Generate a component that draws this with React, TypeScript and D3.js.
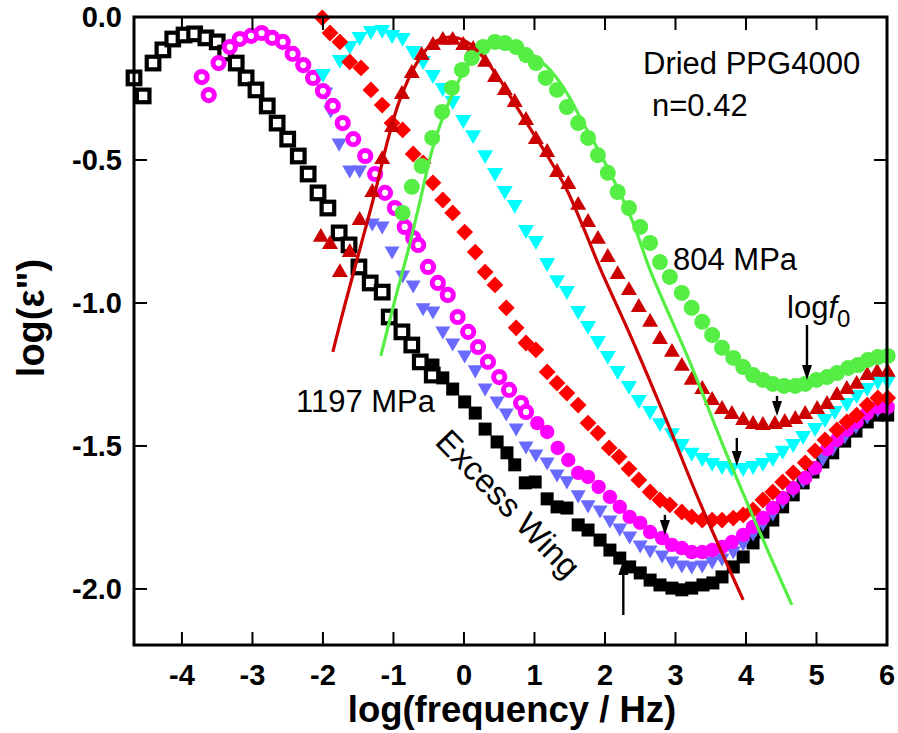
import React from 'react';
import * as d3 from 'd3';

type P = [number, number];

const W = 898;
const H = 733;
const M = { left: 134, right: 11, top: 17, bottom: 88 };
const X_DOMAIN: [number, number] = [-4.68, 6.0];
const Y_DOMAIN: [number, number] = [-2.196, 0];

const xTicks = [-4, -3, -2, -1, 0, 1, 2, 3, 4, 5, 6];
const xTickLabels = ['-4', '-3', '-2', '-1', '0', '1', '2', '3', '4', '5', '6'];
const yTicks = [0, -0.5, -1, -1.5, -2];
const yTickLabels = ['0.0', '-0.5', '-1.0', '-1.5', '-2.0'];

// 1197 MPa, low-frequency spectrometer (open squares)
const blackOpen: P[] = [
  [-4.68, -0.213], [-4.55, -0.276], [-4.41, -0.161], [-4.27, -0.115], [-4.13, -0.077],
  [-3.97, -0.063], [-3.82, -0.059], [-3.66, -0.073], [-3.5, -0.087], [-3.38, -0.126],
  [-3.23, -0.161], [-3.09, -0.213], [-2.95, -0.255], [-2.79, -0.311], [-2.65, -0.371],
  [-2.5, -0.427], [-2.35, -0.486], [-2.21, -0.549], [-2.07, -0.615], [-1.93, -0.668],
  [-1.77, -0.755], [-1.63, -0.797], [-1.49, -0.874], [-1.33, -0.93], [-1.16, -0.962],
  [-1.06, -1.049], [-0.88, -1.101], [-0.74, -1.147], [-0.62, -1.206], [-0.45, -1.252],
];
// 1197 MPa, high-frequency (filled squares)
const blackFilled: P[] = [
  [-0.44, -1.217], [-0.3, -1.262], [-0.16, -1.301], [0.01, -1.346], [0.16, -1.385],
  [0.3, -1.441], [0.47, -1.486], [0.61, -1.524], [0.72, -1.566], [0.87, -1.629],
  [1.01, -1.626], [1.18, -1.685], [1.32, -1.713], [1.46, -1.717], [1.62, -1.776],
  [1.76, -1.794], [1.93, -1.829], [2.07, -1.864], [2.21, -1.892], [2.35, -1.923],
  [2.5, -1.944], [2.64, -1.969], [2.78, -1.986], [2.95, -1.997], [3.09, -2.003],
  [3.23, -1.997], [3.39, -1.986], [3.53, -1.979], [3.66, -1.958], [3.82, -1.923],
  [3.96, -1.888], [4.1, -1.839], [4.24, -1.801], [4.38, -1.759], [4.52, -1.713],
  [4.67, -1.671], [4.81, -1.629], [4.95, -1.591], [5.09, -1.556], [5.23, -1.524],
  [5.4, -1.483], [5.56, -1.448], [5.72, -1.416], [5.87, -1.392], [6.01, -1.392],
];
const blueDown: P[] = [
  [-1.96, -0.269], [-1.89, -0.332], [-1.77, -0.448], [-1.62, -0.542], [-1.48, -0.542],
  [-1.3, -0.727], [-1.16, -0.738], [-1.02, -0.825], [-0.87, -0.909], [-0.72, -0.944],
  [-0.58, -1.024], [-0.44, -1.035], [-0.3, -1.105], [-0.16, -1.147], [0.01, -1.189],
  [0.16, -1.241], [0.3, -1.304], [0.47, -1.35], [0.6, -1.392], [0.74, -1.444],
  [0.88, -1.507], [1.02, -1.535], [1.18, -1.563], [1.32, -1.605], [1.46, -1.629],
  [1.62, -1.678], [1.76, -1.713], [1.93, -1.731], [2.07, -1.766], [2.21, -1.794],
  [2.35, -1.822], [2.5, -1.853], [2.64, -1.871], [2.81, -1.888], [2.95, -1.909],
  [3.09, -1.923], [3.23, -1.927], [3.38, -1.923], [3.52, -1.909], [3.66, -1.899],
  [3.82, -1.874], [3.96, -1.846], [4.1, -1.811], [4.24, -1.776], [4.38, -1.741],
  [4.52, -1.699], [4.67, -1.661], [4.81, -1.626], [4.95, -1.584], [5.09, -1.549],
  [5.23, -1.514], [5.4, -1.472], [5.56, -1.437], [5.72, -1.402], [5.87, -1.378],
  [6.01, -1.378],
];
const magentaOpen: P[] = [
  [-3.72, -0.21], [-3.62, -0.273], [-3.48, -0.161], [-3.32, -0.105], [-3.18, -0.077],
  [-3.02, -0.066], [-2.87, -0.056], [-2.72, -0.073], [-2.57, -0.087], [-2.43, -0.129],
  [-2.28, -0.168], [-2.14, -0.213], [-2.0, -0.259], [-1.86, -0.311], [-1.72, -0.371],
  [-1.57, -0.427], [-1.4, -0.486], [-1.26, -0.549], [-1.12, -0.615], [-0.98, -0.668],
  [-0.84, -0.734], [-0.72, -0.773], [-0.65, -0.797], [-0.51, -0.874], [-0.37, -0.93],
  [-0.23, -0.972], [-0.09, -1.049], [0.06, -1.101], [0.2, -1.154], [0.34, -1.206],
  [0.5, -1.259], [0.64, -1.304], [0.81, -1.35], [0.88, -1.381],
];
const magentaFilled: P[] = [
  [1.04, -1.42], [1.18, -1.451], [1.33, -1.507], [1.48, -1.549], [1.62, -1.594],
  [1.76, -1.608], [1.91, -1.643], [2.07, -1.678], [2.21, -1.713], [2.35, -1.748],
  [2.5, -1.769], [2.64, -1.801], [2.81, -1.822], [2.95, -1.846], [3.09, -1.857],
  [3.23, -1.871], [3.38, -1.871], [3.52, -1.864], [3.66, -1.853], [3.8, -1.836],
  [3.96, -1.811], [4.1, -1.783], [4.24, -1.752], [4.38, -1.717], [4.52, -1.682],
  [4.67, -1.647], [4.84, -1.612], [4.98, -1.577], [5.15, -1.511], [5.29, -1.479],
  [5.43, -1.444], [5.57, -1.416], [5.72, -1.385], [5.87, -1.364], [6.01, -1.364],
];
const cyanDown: P[] = [
  [-2.0, -0.206], [-1.76, -0.157], [-1.62, -0.108], [-1.48, -0.077], [-1.32, -0.056],
  [-1.16, -0.052], [-1.02, -0.07], [-0.87, -0.08], [-0.72, -0.126], [-0.58, -0.161],
  [-0.44, -0.21], [-0.3, -0.255], [-0.16, -0.301], [-0.01, -0.367], [0.13, -0.42],
  [0.3, -0.49], [0.44, -0.552], [0.58, -0.615], [0.72, -0.664], [0.88, -0.752],
  [1.02, -0.79], [1.18, -0.867], [1.32, -0.927], [1.46, -0.965], [1.62, -1.035],
  [1.76, -1.087], [1.9, -1.14], [2.04, -1.192], [2.18, -1.245], [2.34, -1.297],
  [2.48, -1.346], [2.64, -1.385], [2.78, -1.427], [2.95, -1.462], [3.09, -1.5],
  [3.23, -1.531], [3.38, -1.549], [3.52, -1.566], [3.66, -1.577], [3.8, -1.584],
  [3.96, -1.584], [4.1, -1.577], [4.24, -1.566], [4.38, -1.549], [4.52, -1.524],
  [4.67, -1.5], [4.81, -1.472], [4.98, -1.444], [5.12, -1.413], [5.26, -1.385],
  [5.43, -1.357], [5.57, -1.329], [5.72, -1.304], [5.87, -1.28], [6.01, -1.28],
];
const redDiamond: P[] = [
  [-2.01, -0.003], [-1.9, -0.056], [-1.76, -0.087], [-1.62, -0.157], [-1.46, -0.178],
  [-1.32, -0.255], [-1.16, -0.308], [-1.02, -0.371], [-0.87, -0.395], [-0.72, -0.479],
  [-0.58, -0.51], [-0.44, -0.58], [-0.3, -0.64], [-0.16, -0.685], [0.01, -0.752],
  [0.16, -0.822], [0.3, -0.892], [0.44, -0.937], [0.6, -1.017], [0.74, -1.087],
  [0.88, -1.14], [1.02, -1.164], [1.18, -1.241], [1.32, -1.28], [1.46, -1.315],
  [1.62, -1.357], [1.76, -1.42], [1.9, -1.455], [2.06, -1.507], [2.2, -1.538],
  [2.34, -1.58], [2.48, -1.619], [2.64, -1.661], [2.78, -1.689], [2.92, -1.706],
  [3.09, -1.731], [3.23, -1.748], [3.38, -1.759], [3.52, -1.759], [3.66, -1.759],
  [3.82, -1.752], [3.96, -1.741], [4.1, -1.724], [4.24, -1.689], [4.38, -1.661],
  [4.52, -1.626], [4.67, -1.594], [4.84, -1.559], [4.98, -1.517], [5.12, -1.479],
  [5.29, -1.444], [5.43, -1.416], [5.57, -1.392], [5.72, -1.357], [5.87, -1.332],
  [6.01, -1.332],
];
const darkRedUp: P[] = [
  [-2.03, -0.762], [-1.9, -0.787], [-1.76, -0.885], [-1.62, -0.815], [-1.48, -0.703],
  [-1.3, -0.605], [-1.16, -0.49], [-1.02, -0.378], [-0.88, -0.262], [-0.74, -0.189],
  [-0.6, -0.126], [-0.44, -0.091], [-0.3, -0.073], [-0.16, -0.073], [-0.01, -0.091],
  [0.13, -0.105], [0.3, -0.15], [0.44, -0.203], [0.58, -0.248], [0.72, -0.29],
  [0.88, -0.353], [1.02, -0.42], [1.18, -0.465], [1.32, -0.535], [1.48, -0.577],
  [1.62, -0.65], [1.76, -0.71], [1.9, -0.769], [2.04, -0.832], [2.18, -0.892],
  [2.34, -0.948], [2.48, -1.007], [2.64, -1.059], [2.78, -1.119], [2.95, -1.164],
  [3.09, -1.213], [3.23, -1.262], [3.38, -1.294], [3.52, -1.332], [3.66, -1.364],
  [3.8, -1.381], [3.96, -1.402], [4.1, -1.416], [4.24, -1.42], [4.41, -1.416],
  [4.55, -1.409], [4.7, -1.399], [4.84, -1.381], [5.01, -1.364], [5.15, -1.346],
  [5.29, -1.315], [5.43, -1.294], [5.57, -1.276], [5.72, -1.245], [5.86, -1.234],
  [6.01, -1.234],
];
// 804 MPa
const greenCircle: P[] = [
  [-0.87, -0.685], [-0.74, -0.594], [-0.6, -0.521], [-0.45, -0.423], [-0.31, -0.332],
  [-0.17, -0.248], [-0.03, -0.185], [0.11, -0.143], [0.27, -0.105], [0.44, -0.087],
  [0.58, -0.091], [0.74, -0.105], [0.88, -0.133], [1.02, -0.161], [1.16, -0.213],
  [1.32, -0.255], [1.46, -0.315], [1.62, -0.371], [1.76, -0.423], [1.9, -0.483],
  [2.04, -0.545], [2.18, -0.612], [2.34, -0.668], [2.5, -0.734], [2.64, -0.79],
  [2.78, -0.857], [2.92, -0.909], [3.09, -0.965], [3.23, -1.017], [3.38, -1.066],
  [3.52, -1.112], [3.66, -1.157], [3.82, -1.192], [3.96, -1.224], [4.1, -1.252],
  [4.24, -1.269], [4.38, -1.283], [4.54, -1.29], [4.7, -1.29], [4.84, -1.283],
  [5.0, -1.269], [5.15, -1.259], [5.29, -1.245], [5.45, -1.227], [5.59, -1.217],
  [5.73, -1.199], [5.87, -1.189], [6.01, -1.185],
];
// fit curves
const redFit: P[] = [
  [-1.86, -1.171], [-1.69, -1.007], [-1.48, -0.815], [-1.26, -0.612], [-1.08, -0.43],
  [-0.91, -0.29], [-0.67, -0.161], [-0.44, -0.091], [-0.2, -0.07], [0.04, -0.087],
  [0.27, -0.14], [0.51, -0.22], [0.75, -0.315], [0.98, -0.406], [1.22, -0.5],
  [1.46, -0.605], [1.69, -0.734], [1.93, -0.878], [2.4, -1.136], [2.88, -1.416],
  [3.35, -1.7], [3.96, -2.038],
];
const greenFit: P[] = [
  [-1.18, -1.185], [-0.98, -0.99], [-0.79, -0.815], [-0.62, -0.64], [-0.44, -0.455],
  [-0.2, -0.29], [0.04, -0.175], [0.27, -0.115], [0.51, -0.087], [0.75, -0.098],
  [0.98, -0.133], [1.22, -0.185], [1.46, -0.266], [1.69, -0.371], [1.93, -0.476],
  [2.17, -0.594], [2.4, -0.72], [2.64, -0.885], [3.21, -1.21], [3.7, -1.514],
  [4.2, -1.804], [4.65, -2.056],
];
// arrows: x, tail y, head y
const arrows: [number, number, number][] = [
  [4.865, -1.077, -1.269],
  [4.44, -1.325, -1.395],
  [3.87, -1.472, -1.57],
  [2.85, -1.741, -1.811],
  [2.26, -2.091, -1.899],
];

const FONT = "'Liberation Sans', Arial, Helvetica, sans-serif";

export default function App() {
  const x = d3.scaleLinear().domain(X_DOMAIN).range([M.left, W - M.right]);
  const y = d3.scaleLinear().domain(Y_DOMAIN).range([H - M.bottom, M.top]);
  const x0 = M.left, x1 = W - M.right, y0 = M.top, y1 = H - M.bottom;

  const line = d3.line<P>().x(d => x(d[0])).y(d => y(d[1])).curve(d3.curveCatmullRom.alpha(0.5));

  const tri = (cx: number, cy: number, s: number, down: boolean) => {
    const h = s * 0.87;
    if (down) return `${cx - s / 2},${cy - h / 2} ${cx + s / 2},${cy - h / 2} ${cx},${cy + h / 2}`;
    return `${cx - s / 2},${cy + h / 2} ${cx + s / 2},${cy + h / 2} ${cx},${cy - h / 2}`;
  };
  const dia = (cx: number, cy: number, r: number) =>
    `${cx},${cy - r} ${cx + r},${cy} ${cx},${cy + r} ${cx - r},${cy}`;

  return (
    <svg width={W} height={H} style={{ position: 'absolute', left: 0, top: 0, background: '#fff' }} fontFamily={FONT}>
      <rect x={0} y={0} width={W} height={H} fill="#fff" />
      {/* data */}
      <g>
        {blackOpen.map((d, i) => (
          <rect key={'bo' + i} x={x(d[0]) - 6.3} y={y(d[1]) - 6.3} width={12.6} height={12.6} fill="#fff" stroke="#000" strokeWidth={4.2} />
        ))}
        {blackFilled.map((d, i) => (
          <rect key={'bf' + i} x={x(d[0]) - 6.5} y={y(d[1]) - 6.5} width={13} height={13} fill="#000" />
        ))}
        {blueDown.map((d, i) => (
          <polygon key={'bl' + i} points={tri(x(d[0]), y(d[1]), 15, true)} fill="#6a6aff" />
        ))}
        {magentaOpen.map((d, i) => (
          <circle key={'mo' + i} cx={x(d[0])} cy={y(d[1])} r={5.6} fill="#fff" stroke="#ff00ff" strokeWidth={5} />
        ))}
        {magentaFilled.map((d, i) => (
          <circle key={'mf' + i} cx={x(d[0])} cy={y(d[1])} r={7.2} fill="#ff00ff" />
        ))}
        {cyanDown.map((d, i) => (
          <polygon key={'cy' + i} points={tri(x(d[0]), y(d[1]), 16, true)} fill="#00ffff" />
        ))}
        {redDiamond.map((d, i) => (
          <polygon key={'rd' + i} points={dia(x(d[0]), y(d[1]), 8.4)} fill="#ff0000" />
        ))}
        {darkRedUp.map((d, i) => (
          <polygon key={'dr' + i} points={tri(x(d[0]), y(d[1]), 16, false)} fill="#cc0000" />
        ))}
        {greenCircle.map((d, i) => (
          <circle key={'gc' + i} cx={x(d[0])} cy={y(d[1])} r={8} fill="#55ee44" />
        ))}
        <path d={line(redFit) || ''} fill="none" stroke="#cc0000" strokeWidth={3.2} />
        <path d={line(greenFit) || ''} fill="none" stroke="#55ee44" strokeWidth={3.2} />
      </g>
      {/* arrows */}
      <g>
        {arrows.map((a, i) => {
          const ax = x(a[0]);
          const ty = y(a[1]);
          const hy = y(a[2]);
          const dir = hy > ty ? 1 : -1;
          const hl = 15;
          return (
            <g key={'ar' + i}>
              <line x1={ax} y1={ty} x2={ax} y2={hy - dir * hl * 0.6} stroke="#000" strokeWidth={2.4} />
              <polygon points={`${ax - 5},${hy - dir * hl} ${ax + 5},${hy - dir * hl} ${ax},${hy}`} fill="#000" />
            </g>
          );
        })}
      </g>
      {/* frame & ticks */}
      <g stroke="#000">
        {xTicks.map((t, i) => (
          <g key={'xt' + i}>
            <line x1={x(t)} x2={x(t)} y1={y1} y2={y1 - 13} strokeWidth={2} />
            <line x1={x(t)} x2={x(t)} y1={y0} y2={y0 + 13} strokeWidth={2} />
          </g>
        ))}
        {yTicks.map((t, i) => (
          <g key={'yt' + i}>
            <line x1={x0} x2={x0 + 13} y1={y(t)} y2={y(t)} strokeWidth={2} />
            <line x1={x1} x2={x1 - 13} y1={y(t)} y2={y(t)} strokeWidth={2} />
          </g>
        ))}
        <rect x={x0} y={y0} width={x1 - x0} height={y1 - y0} fill="none" strokeWidth={3} />
      </g>
      {/* tick labels */}
      <g fontWeight="bold" fontSize={29} fill="#000">
        {xTicks.map((t, i) => (
          <text key={'xl' + i} x={x(t)} y={y1 + 40} textAnchor="middle">{xTickLabels[i]}</text>
        ))}
        {yTicks.map((t, i) => (
          <text key={'yl' + i} x={x0 - 12} y={y(t) + 10} textAnchor="end">{yTickLabels[i]}</text>
        ))}
      </g>
      {/* axis titles */}
      <text x={512} y={722} textAnchor="middle" fontWeight="bold" fontSize={36.5}>log(frequency / Hz)</text>
      <text transform={`translate(44, 318) rotate(-90)`} textAnchor="middle" fontWeight="bold" fontSize={38}>log(ε")</text>
      {/* annotations */}
      <g fontSize={31} fill="#000">
        <text x={643} y={74}>Dried PPG4000</text>
        <text x={652} y={116}>n=0.42</text>
        <text x={673} y={270}>804 MPa</text>
        <text x={296} y={412}>1197 MPa</text>
        <text x={787} y={318}>log<tspan fontStyle="italic">f</tspan><tspan fontSize={24} dy={9}>0</tspan></text>
        <text transform="translate(508, 504) rotate(46)" textAnchor="middle" dy={11} fontSize={33}>Excess Wing</text>
      </g>
    </svg>
  );
}
